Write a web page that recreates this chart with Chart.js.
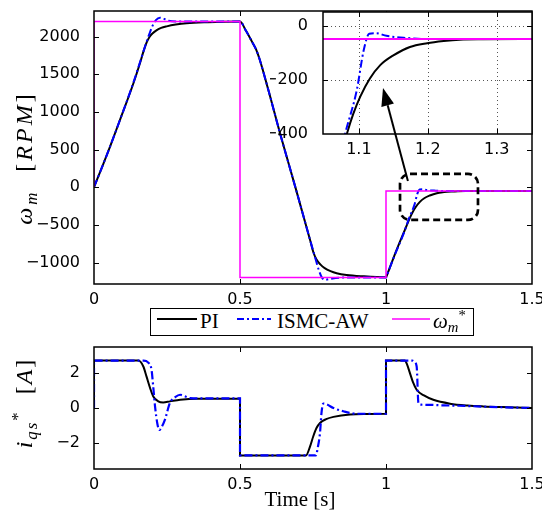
<!DOCTYPE html>
<html>
<head>
<meta charset="utf-8">
<script src="https://cdn.jsdelivr.net/npm/chart.js@4.4.0/dist/chart.umd.min.js"></script>
<style>
  html, body { margin: 0; padding: 0; background: #fff; }
  #wrap { position: relative; width: 542px; height: 518px; overflow: hidden; background: #fff; }
  #wrap canvas { position: absolute; }
  .serif { font-family: 'Liberation Serif', serif; color: #000; white-space: nowrap; }
  .ylab { position: absolute; height: 30px; line-height: 30px; text-align: center; font-size: 24px; transform: rotate(-90deg); }
  .lo { font-size: 70%; vertical-align: -0.3em; line-height: 0; }
  .hi { font-size: 70%; vertical-align: 0.55em; line-height: 0; font-style: normal; }
  #legend { position: absolute; left: 150px; top: 308px; width: 324px; height: 28px; box-sizing: border-box; border: 1.5px solid #000; background: #fff; }
  #legend svg { position: absolute; top: 8px; }
  #legend .lbl { position: absolute; top: 0; line-height: 25px; font-size: 21px; }
  #xlab { position: absolute; left: 200px; top: 487px; width: 200px; text-align: center; font-size: 21px; line-height: 24px; }
</style>
</head>
<body>
<div id="wrap">
  <canvas id="speedChart" width="542" height="305" style="left:0;top:0"></canvas>
  <canvas id="zoomChart" width="272" height="160" style="left:270px;top:0"></canvas>
  <canvas id="callout" width="542" height="518" style="left:0;top:0"></canvas>
  <canvas id="currentChart" width="542" height="178" style="left:0;top:340px"></canvas>

  <div class="ylab serif" style="left:-56px;top:143px;width:160px;letter-spacing:3px"><i>ω</i><i class="lo">m</i>&nbsp;&nbsp;[<i>RPM</i>]</div>
  <div class="ylab serif" style="left:-56px;top:388px;width:160px;letter-spacing:2px"><i>i</i><i class="lo">qs</i><span class="hi">*</span>&nbsp;&nbsp;[<i>A</i>]</div>

  <div id="legend">
    <svg style="left:6px" width="40" height="4"><line x1="0" y1="2" x2="40" y2="2" stroke="#000" stroke-width="2"/></svg>
    <span class="lbl serif" style="left:49px">PI</span>
    <svg style="left:86px" width="34" height="4"><line x1="0" y1="2" x2="34" y2="2" stroke="#00f" stroke-width="2" stroke-dasharray="7 3 2 3"/></svg>
    <span class="lbl serif" style="left:126px">ISMC-AW</span>
    <svg style="left:241px" width="38" height="4"><line x1="0" y1="2" x2="38" y2="2" stroke="#f0f" stroke-width="1.5"/></svg>
    <span class="lbl serif" style="left:282px"><i>ω</i><i class="lo">m</i><span class="hi">*</span></span>
  </div>
  <div id="xlab" class="serif">Time [s]</div>
</div>

<script>
// tick values
const timeTicks = [0, 0.5, 1, 1.5];
const speedTicks = [-1000, -500, 0, 500, 1000, 1500, 2000];
const currentTicks = [-2, 0, 2];
const zoomTimeTicks = [1.1, 1.2, 1.3];
const zoomSpeedTicks = [-400, -200, 0];

// speed reference (magenta)
const tRef = [0, 0, 0.5, 0.5, 1, 1, 1.5];
const wRef = [0, 2200, 2200, -1200, -1200, -50, -50];

// speed, PI
const tSpeedPI = [0, 0.03, 0.055, 0.089, 0.135, 0.16, 0.17, 0.18, 0.19, 0.2, 0.215, 0.23, 0.249, 0.28, 0.317, 0.39, 0.45, 0.5,
  0.52, 0.54, 0.555, 0.568, 0.58, 0.6, 0.637, 0.69, 0.74, 0.751, 0.762, 0.775, 0.79, 0.81, 0.831, 0.865, 0.92, 1.0,
  1.005, 1.03, 1.06, 1.083, 1.092, 1.102, 1.116, 1.131, 1.15, 1.174, 1.199, 1.223, 1.246, 1.28, 1.35, 1.5];
const wSpeedPI = [0, 290, 540, 894, 1381, 1680, 1810, 1920, 1995, 2040, 2085, 2115, 2136, 2160, 2178, 2192, 2198, 2200,
  2080, 1940, 1830, 1690, 1530, 1250, 717, -5, -700, -860, -960, -1025, -1075, -1115, -1142, -1165, -1182, -1195,
  -1150, -895, -610, -396, -325, -262, -195, -146, -110, -79, -65, -57, -52, -50.5, -50, -50];

// speed, ISMC-AW
const tSpeedSM = [0, 0.03, 0.055, 0.089, 0.135, 0.16, 0.18, 0.19, 0.2, 0.212, 0.226, 0.24, 0.255, 0.28, 0.32, 0.5,
  0.52, 0.54, 0.555, 0.568, 0.58, 0.6, 0.637, 0.69, 0.74, 0.757, 0.77, 0.78, 0.79, 0.81, 0.85, 1.0,
  1.005, 1.03, 1.06, 1.08, 1.097, 1.107, 1.115, 1.125, 1.14, 1.17, 1.2, 1.5];
const wSpeedSM = [0, 290, 540, 894, 1390, 1690, 1930, 2040, 2140, 2220, 2250, 2235, 2210, 2200, 2200, 2200,
  2080, 1940, 1830, 1690, 1530, 1250, 717, -5, -700, -930, -1100, -1195, -1230, -1215, -1200, -1200,
  -1150, -900, -620, -400, -238, -91, -30, -28, -38, -46, -50, -50];

// current command, PI
const tCurPI = [0, 0, 0.152, 0.169, 0.18, 0.192, 0.203, 0.22, 0.237, 0.26, 0.295, 0.352, 0.5, 0.5,
  0.726, 0.74, 0.751, 0.762, 0.774, 0.795, 0.82, 0.877, 0.94, 1.0, 1.0,
  1.065, 1.072, 1.082, 1.092, 1.105, 1.13, 1.162, 1.219, 1.28, 1.333, 1.42, 1.5];
const iCurPI = [0, 2.72, 2.72, 2.38, 1.8, 1.15, 0.66, 0.38, 0.32, 0.38, 0.47, 0.53, 0.53, -2.72,
  -2.72, -2.2, -1.62, -1.15, -0.86, -0.64, -0.51, -0.37, -0.34, -0.33, 2.72,
  2.72, 2.5, 2.0, 1.5, 1.05, 0.72, 0.47, 0.25, 0.14, 0.09, 0.04, 0.0];

// current command, ISMC-AW
const tCurSM = [0, 0, 0.17, 0.185, 0.197, 0.203, 0.209, 0.217, 0.224, 0.233, 0.243, 0.26, 0.278, 0.295, 0.31, 0.329, 0.36, 0.5, 0.5,
  0.76, 0.766, 0.774, 0.779, 0.785, 0.795, 0.82, 0.854, 0.9, 1.0, 1.0,
  1.09, 1.097, 1.105, 1.111, 1.12, 1.15, 1.2, 1.25, 1.3, 1.4, 1.5];
const iCurSM = [0, 2.72, 2.72, 2.62, 2.19, 1.2, 0.09, -0.9, -1.26, -1.05, -0.67, 0.29, 0.62, 0.76, 0.68, 0.57, 0.55, 0.55, -2.72,
  -2.72, -2.3, -1.43, -0.29, 0.25, 0.22, 0.0, -0.19, -0.33, -0.33, 2.72,
  2.72, 2.65, 2.38, 0.29, 0.19, 0.18, 0.15, 0.13, 0.1, 0.04, 0.0];

// dashed box around the zoomed region and the arrow pointing to the inset
const boxTime = [1.048, 1.315];
const boxSpeed = [-434, 177];
const arrowFrom = [1.075, 84];     // main axes
const arrowTo = [1.135, -230];     // inset axes

const tickFont = { family: "'DejaVu Sans'", size: 16 };

function pts(t, v) {
    return t.map((x, i) => ({ x: x, y: v[i] }));
}

function minusSign(value) {
    return String(value).replace('-', '\u2212');
}

function fixedTicks(list) {
    return scale => { scale.ticks = list.map(v => ({ value: v })); };
}

function xAxis(min, max, ticks, height) {
    return {
        type: 'linear', min: min, max: max,
        grid: { display: false }, border: { display: false },
        afterBuildTicks: fixedTicks(ticks),
        afterFit: s => { s.height = height; s.paddingLeft = 0; s.paddingRight = 0; },
        ticks: { font: tickFont, color: '#000', padding: -2, maxRotation: 0, autoSkip: false, callback: minusSign }
    };
}

function yAxis(min, max, ticks, width, pad) {
    return {
        type: 'linear', min: min, max: max,
        grid: { display: false }, border: { display: false },
        afterBuildTicks: fixedTicks(ticks),
        afterFit: s => { s.width = width; s.paddingTop = 0; s.paddingBottom = 0; },
        ticks: { font: tickFont, color: '#000', padding: pad, autoSkip: false, callback: minusSign }
    };
}

function series(label, t, v, color, width, dash, order, smooth) {
    return {
        label: label,
        data: pts(t, v),
        borderColor: color,
        borderWidth: width,
        borderDash: dash,
        pointRadius: 0,
        fill: false,
        tension: 0,
        cubicInterpolationMode: smooth ? 'monotone' : 'default',
        order: order
    };
}

// box, inward ticks on all four sides, optional dotted grid
const frame = {
    id: 'frame',
    beforeDraw(chart) {
        const { ctx, chartArea: a } = chart;
        ctx.save();
        ctx.fillStyle = '#fff';
        ctx.fillRect(a.left, a.top, a.width, a.height);
        ctx.restore();
    },
    beforeDatasetsDraw(chart, args, opts) {
        if (!opts.grid) return;
        const { ctx, chartArea: a, scales: { x, y } } = chart;
        ctx.save();
        ctx.strokeStyle = '#555';
        ctx.lineWidth = 1;
        ctx.setLineDash([1, 3]);
        ctx.beginPath();
        x.ticks.forEach(t => {
            const px = Math.round(x.getPixelForValue(t.value)) + 0.5;
            if (px <= a.left + 1 || px >= a.right - 1) return;
            ctx.moveTo(px, a.top); ctx.lineTo(px, a.bottom);
        });
        y.ticks.forEach(t => {
            const py = Math.round(y.getPixelForValue(t.value)) + 0.5;
            if (py <= a.top + 1 || py >= a.bottom - 1) return;
            ctx.moveTo(a.left, py); ctx.lineTo(a.right, py);
        });
        ctx.stroke();
        ctx.restore();
    },
    afterDatasetsDraw(chart) {
        const { ctx, chartArea: a, scales: { x, y } } = chart;
        const len = 5;
        ctx.save();
        ctx.strokeStyle = '#000';
        ctx.lineWidth = 1;
        ctx.beginPath();
        x.ticks.forEach(t => {
            const px = Math.round(x.getPixelForValue(t.value)) + 0.5;
            if (px <= a.left + 1 || px >= a.right - 1) return;
            ctx.moveTo(px, a.bottom); ctx.lineTo(px, a.bottom - len);
            ctx.moveTo(px, a.top); ctx.lineTo(px, a.top + len);
        });
        y.ticks.forEach(t => {
            const py = Math.round(y.getPixelForValue(t.value)) + 0.5;
            if (py <= a.top + 1 || py >= a.bottom - 1) return;
            ctx.moveTo(a.left, py); ctx.lineTo(a.left + len, py);
            ctx.moveTo(a.right, py); ctx.lineTo(a.right - len, py);
        });
        ctx.stroke();
        ctx.lineWidth = 1.5;
        ctx.strokeRect(a.left, a.top, a.width, a.height);
        ctx.restore();
    }
};

function baseOptions(padding, scales, grid) {
    return {
        responsive: false,
        animation: false,
        events: [],
        layout: { padding: padding },
        plugins: { legend: { display: false }, tooltip: { enabled: false }, frame: { grid: grid } },
        scales: scales
    };
}

const dashDot = [8, 3, 2, 3];

const speedChart = new Chart(document.getElementById('speedChart'), {
    type: 'line',
    data: {
        datasets: [
            series('PI', tSpeedPI, wSpeedPI, '#000', 2, [], 3, true),
            series('ISMC-AW', tSpeedSM, wSpeedSM, '#00f', 2, dashDot, 2, true),
            series('ref', tRef, wRef, '#f0f', 1.5, [], 1, false)
        ]
    },
    options: baseOptions({ top: 11, right: 10, left: 0, bottom: 0 }, {
        x: xAxis(0, 1.5, timeTicks, 21),
        y: yAxis(-1285, 2340, speedTicks, 94, 6)
    }, false),
    plugins: [frame]
});

const zoomChart = new Chart(document.getElementById('zoomChart'), {
    type: 'line',
    data: {
        datasets: [
            series('PI', tSpeedPI, wSpeedPI, '#000', 2, [], 3, true),
            series('ISMC-AW', tSpeedSM, wSpeedSM, '#00f', 2, dashDot, 2, true),
            series('ref', tRef, wRef, '#f0f', 2, [], 1, false)
        ]
    },
    options: baseOptions({ top: 12, right: 10, left: 0, bottom: 0 }, {
        x: xAxis(1.048, 1.351, zoomTimeTicks, 26),
        y: yAxis(-400, 50, zoomSpeedTicks, 53, 7)
    }, true),
    plugins: [frame]
});

const currentChart = new Chart(document.getElementById('currentChart'), {
    type: 'line',
    data: {
        datasets: [
            series('PI', tCurPI, iCurPI, '#000', 2, [], 3, true),
            series('ISMC-AW', tCurSM, iCurSM, '#00f', 2.2, dashDot, 2, true)
        ]
    },
    options: baseOptions({ top: 7, right: 10, left: 0, bottom: 0 }, {
        x: xAxis(0, 1.5, timeTicks, 49),
        y: yAxis(-3.5, 3.5, currentTicks, 94, 6)
    }, false),
    plugins: [frame]
});

function drawCallout() {
    const ctx = document.getElementById('callout').getContext('2d');
    const mx = speedChart.scales.x, my = speedChart.scales.y;
    const zx = zoomChart.scales.x, zy = zoomChart.scales.y;
    const zoomLeft = 270, zoomTop = 0;

    // rounded dashed box
    const l = mx.getPixelForValue(boxTime[0]), r = mx.getPixelForValue(boxTime[1]);
    const t = my.getPixelForValue(boxSpeed[1]), b = my.getPixelForValue(boxSpeed[0]);
    const rad = 10;
    ctx.save();
    ctx.strokeStyle = '#000';
    ctx.lineWidth = 2.7;
    ctx.setLineDash([7, 4]);
    ctx.beginPath();
    ctx.moveTo(l + rad, t);
    ctx.arcTo(r, t, r, b, rad);
    ctx.arcTo(r, b, l, b, rad);
    ctx.arcTo(l, b, l, t, rad);
    ctx.arcTo(l, t, r, t, rad);
    ctx.closePath();
    ctx.stroke();
    ctx.restore();

    // arrow from the box up into the inset
    const x0 = mx.getPixelForValue(arrowFrom[0]), y0 = my.getPixelForValue(arrowFrom[1]);
    const x1 = zoomLeft + zx.getPixelForValue(arrowTo[0]), y1 = zoomTop + zy.getPixelForValue(arrowTo[1]);
    const ang = Math.atan2(y1 - y0, x1 - x0);
    const head = 18, half = 6.5;
    const bx = x1 - head * Math.cos(ang), by = y1 - head * Math.sin(ang);
    ctx.save();
    ctx.strokeStyle = '#000';
    ctx.fillStyle = '#000';
    ctx.lineWidth = 2;
    ctx.beginPath();
    ctx.moveTo(x0, y0);
    ctx.lineTo(bx, by);
    ctx.stroke();
    ctx.beginPath();
    ctx.moveTo(x1, y1);
    ctx.lineTo(bx + half * Math.sin(ang), by - half * Math.cos(ang));
    ctx.lineTo(bx - half * Math.sin(ang), by + half * Math.cos(ang));
    ctx.closePath();
    ctx.fill();
    ctx.restore();
}

drawCallout();
</script>
</body>
</html>
